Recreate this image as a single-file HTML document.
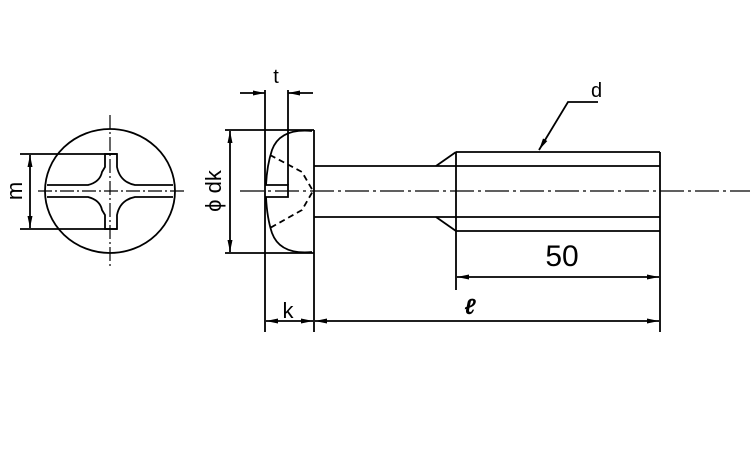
<!DOCTYPE html>
<html><head><meta charset="utf-8"><style>body{margin:0;background:#fff}svg{display:block}</style></head><body>
<svg width="750" height="450" viewBox="0 0 750 450" xmlns="http://www.w3.org/2000/svg">
<defs>
<marker id="a" markerWidth="12" markerHeight="6" refX="12" refY="3" orient="auto-start-reverse" markerUnits="userSpaceOnUse"><path d="M0,0.5 L12,3 L0,5.5 Z" fill="#000"/></marker>
</defs>
<g stroke="#000" stroke-width="1.8" fill="none">
<!-- left view -->
<ellipse cx="110" cy="191" rx="65" ry="62"/>
<line x1="110" y1="115" x2="110" y2="268" stroke-dasharray="14,3,2,3" stroke-width="1.2"/>
<line x1="38" y1="191" x2="185" y2="191" stroke-dasharray="14,3,2,3" stroke-width="1.2"/>
<path d="M47,185 L88,185 Q100,182 102,172 L105,167 L105,154 L117,154 L117,167 Q120,182 135,185 L173,185"/>
<path d="M47,197 L88,197 Q100,200 102,210 L105,215 L105,229 L117,229 L117,215 Q120,200 135,197 L173,197"/>
<line x1="20" y1="154" x2="117" y2="154"/>
<line x1="20" y1="229" x2="117" y2="229"/>
<line x1="30" y1="155" x2="30" y2="228" marker-start="url(#a)" marker-end="url(#a)"/>
<!-- head -->
<line x1="265" y1="90" x2="265" y2="332"/>
<line x1="288" y1="90" x2="288" y2="185"/>
<line x1="225" y1="130" x2="314" y2="130"/>
<line x1="225" y1="253" x2="314" y2="253"/>
<line x1="314" y1="130" x2="314" y2="332"/>
<path d="M312,131 Q280,128 272,150 Q267,165 266,185"/>
<path d="M312,252 Q280,255 272,233 Q267,218 266,197"/>
<path d="M265,185 L288,185 L288,197 L265,197"/>
<path d="M270,155 L302,172 L313,191 L302,210 L270,228" stroke-dasharray="6,4"/>
<line x1="230" y1="131" x2="230" y2="252" marker-start="url(#a)" marker-end="url(#a)"/>
<line x1="240" y1="93" x2="265" y2="93" marker-end="url(#a)"/>
<line x1="313" y1="93" x2="288" y2="93" marker-end="url(#a)"/>
<!-- shank -->
<line x1="314" y1="166" x2="660" y2="166"/>
<line x1="314" y1="217" x2="660" y2="217"/>
<line x1="436" y1="166" x2="456" y2="152"/>
<line x1="436" y1="217" x2="456" y2="231"/>
<line x1="456" y1="152" x2="660" y2="152"/>
<line x1="456" y1="231" x2="660" y2="231"/>
<line x1="456" y1="152" x2="456" y2="290"/>
<line x1="660" y1="152" x2="660" y2="332"/>
<line x1="240" y1="191" x2="750" y2="191" stroke-dasharray="24,4,3,4" stroke-width="1.2"/>
<line x1="457" y1="277" x2="659" y2="277" marker-start="url(#a)" marker-end="url(#a)"/>
<line x1="315" y1="321" x2="659" y2="321" marker-start="url(#a)" marker-end="url(#a)"/>
<line x1="266" y1="321" x2="313" y2="321" marker-start="url(#a)" marker-end="url(#a)"/>
<path d="M598,102 L568,102 L539,150" marker-end="url(#a)"/>
</g>
<g font-family="Liberation Sans, sans-serif" fill="#000">
<text x="276" y="83" font-size="20" text-anchor="middle">t</text>
<text x="591" y="97" font-size="20">d</text>
<text x="562" y="266" font-size="30" text-anchor="middle">50</text>
<text x="470" y="314" font-size="22" font-style="italic" font-weight="bold" text-anchor="middle">ℓ</text>
<text x="288" y="318" font-size="22" text-anchor="middle">k</text>
<text transform="translate(22,191) rotate(-90)" font-size="22" text-anchor="middle">m</text>
<text transform="translate(221,191) rotate(-90)" font-size="22" text-anchor="middle">ϕ dk</text>
</g>
</svg>
</body></html>
